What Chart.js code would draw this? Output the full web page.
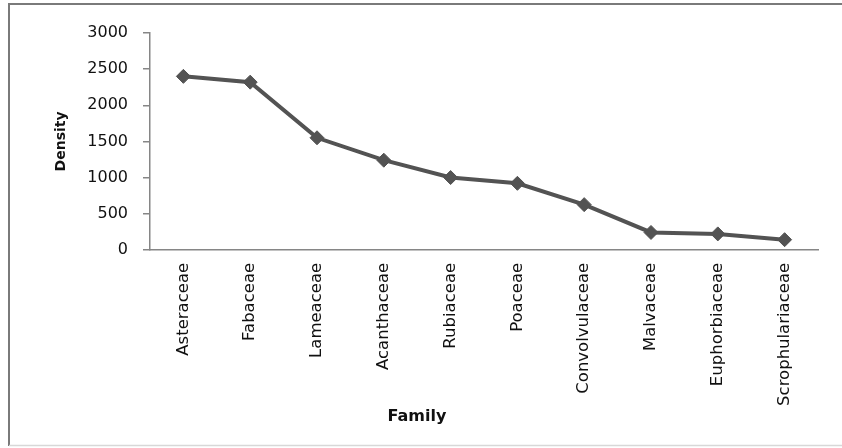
<!DOCTYPE html>
<html>
<head>
<meta charset="utf-8">
<script src="https://cdn.jsdelivr.net/npm/chart.js@4/dist/chart.umd.min.js"></script>
<style>
  html, body { margin: 0; padding: 0; background: #ffffff; }
  #wrap { width: 842px; height: 448px; position: relative; }
</style>
</head>
<body>
<div id="wrap"><canvas id="chart" width="842" height="448"></canvas></div>
<script>
// Plant families and their density
const families = ['Asteraceae', 'Fabaceae', 'Lameaceae', 'Acanthaceae', 'Rubiaceae',
                  'Poaceae', 'Convolvulaceae', 'Malvaceae', 'Euphorbiaceae', 'Scrophulariaceae'];
const density = [2400, 2320, 1550, 1240, 1000, 920, 625, 240, 220, 140];
const yTicks = [0, 500, 1000, 1500, 2000, 2500, 3000];

const lineColor = '#535353';
const axisColor = '#868686';

// White background with a thin frame round the whole figure
const framePlugin = {
  id: 'frame',
  beforeDraw(chart) {
    const ctx = chart.ctx;
    const w = chart.width, h = chart.height;
    ctx.save();
    ctx.fillStyle = '#ffffff';
    ctx.fillRect(0, 0, w, h);
    ctx.strokeStyle = '#7a7a7a';
    ctx.lineWidth = 2;
    ctx.beginPath();
    ctx.moveTo(9, h - 2);
    ctx.lineTo(9, 4);
    ctx.lineTo(w, 4);
    ctx.stroke();
    ctx.strokeStyle = '#d8d8d8';
    ctx.lineWidth = 1.5;
    ctx.beginPath();
    ctx.moveTo(9, h - 2.5);
    ctx.lineTo(w, h - 2.5);
    ctx.stroke();
    ctx.restore();
  }
};

new Chart(document.getElementById('chart'), {
  type: 'line',
  data: {
    labels: families,
    datasets: [{
      label: 'Density',
      data: density,
      borderColor: lineColor,
      backgroundColor: lineColor,
      borderWidth: 4,
      tension: 0,
      pointStyle: 'rectRot',
      pointRadius: 7,
      pointBorderWidth: 1,
      pointBorderColor: lineColor,
      pointBackgroundColor: lineColor
    }]
  },
  options: {
    responsive: false,
    animation: false,
    events: [],
    layout: { padding: { left: 16, right: 24, top: 33, bottom: 22 } },
    plugins: {
      legend: { display: false },
      tooltip: { enabled: false },
      title: {
        display: true,
        position: 'bottom',
        text: 'Family',
        color: '#111111',
        font: { family: 'DejaVu Sans', size: 16, weight: 'bold' },
        padding: { top: 0, bottom: 0 }
      }
    },
    scales: {
      x: {
        type: 'category',
        offset: true,
        grid: { display: true, drawOnChartArea: false, drawTicks: false },
        border: { display: true, color: axisColor, width: 1.5 },
        ticks: {
          autoSkip: false,
          minRotation: 90,
          maxRotation: 90,
          padding: 13,
          color: '#111111',
          font: { family: 'DejaVu Sans', size: 16.5 }
        },
        afterFit(scale) { scale.height = 157; }
      },
      y: {
        min: 0,
        max: 3000,
        afterBuildTicks(scale) { scale.ticks = yTicks.map(v => ({ value: v })); },
        grid: { drawOnChartArea: false, drawTicks: true, tickLength: 7, color: axisColor, lineWidth: 1.5 },
        border: { display: true, color: axisColor, width: 1.5 },
        ticks: {
          padding: 15,
          color: '#111111',
          font: { family: 'DejaVu Sans', size: 16 },
          callback: (value) => String(value)
        },
        title: {
          display: true,
          text: 'Density',
          color: '#111111',
          font: { family: 'DejaVu Sans', size: 14, weight: 'bold' },
          padding: { top: 37, bottom: 0 }
        },
        afterFit(scale) { scale.width = 134; }
      }
    }
  },
  plugins: [framePlugin]
});
</script>
</body>
</html>
